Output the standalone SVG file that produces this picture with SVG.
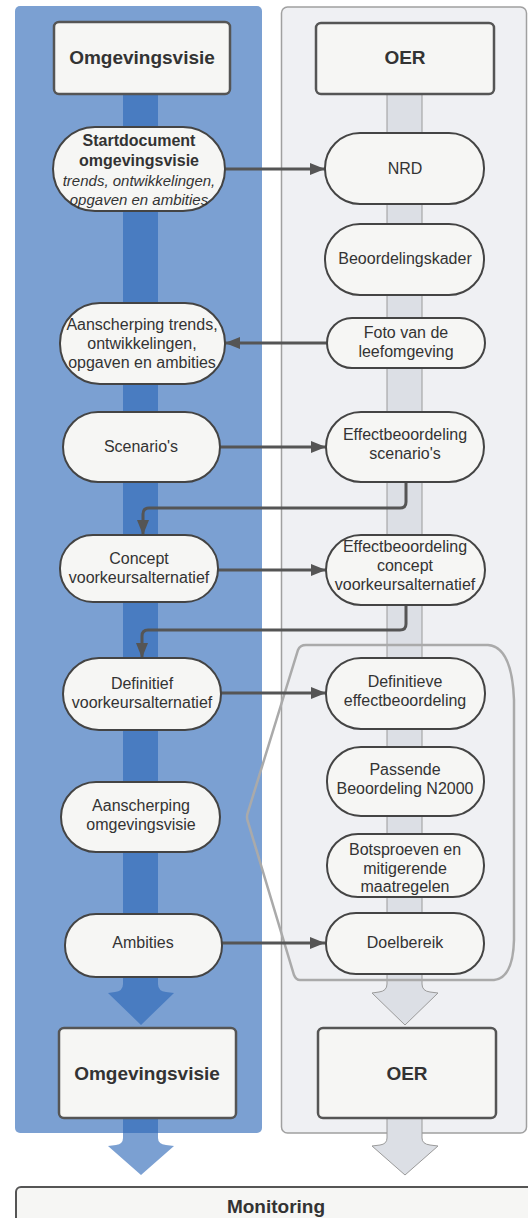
<svg xmlns="http://www.w3.org/2000/svg" width="528" height="1218" viewBox="0 0 528 1218">
<defs>
<style>
.blue{fill:#2a66b6;fill-opacity:0.62}
.gray{fill:#dcdfe5;stroke:#9a9a9a;stroke-width:1}
.node{fill:#f6f6f4;stroke:#444;stroke-width:2}
.hdr{fill:#f6f6f4;stroke:#555;stroke-width:2.5}
.t{font-family:"Liberation Sans",Arial,sans-serif;font-size:16px;fill:#333;text-anchor:middle}
.b{font-weight:bold}
.i{font-style:italic;font-size:15px}
.h{font-family:"Liberation Sans",Arial,sans-serif;font-size:19px;font-weight:bold;fill:#333;text-anchor:middle}
.c{fill:none;stroke:#555;stroke-width:3}
</style>
<marker id="ah" markerUnits="userSpaceOnUse" markerWidth="16" markerHeight="14" refX="15" refY="7" orient="auto">
<path d="M0,1 L15,7 L0,13 Z" fill="#555"/>
</marker>
</defs>

<g id="panels">
<rect x="15" y="6" width="247" height="1127" rx="5" class="blue"/>
<rect x="281.5" y="7" width="245" height="1126" rx="6" fill="#eff0f3" stroke="#a0a0a0" stroke-width="1.5"/>
</g>

<g id="bands">
<path class="blue" d="M123,94 V984 Q123,991 115,992 L108,993 L141,1025 L174,993 L166,992 Q158,991 158,984 V94 Z"/>
<path class="blue" d="M123,1118 V1138 Q123,1144 116,1145 L108,1146 L141,1175 L174,1146 L166,1145 Q158,1144 158,1138 V1118 Z"/>
<path class="gray" d="M387,94 V984 Q387,991 379,992 L372,993 L405,1025 L438,993 L430,992 Q422,991 422,984 V94 Z"/>
<path class="gray" d="M387,1118 V1138 Q387,1144 380,1145 L372,1146 L405,1175 L438,1146 L430,1145 Q422,1144 422,1138 V1118 Z"/>
</g>

<g id="bracket">
<path d="M306,645 L488,645 Q512,647 514,700 L514,940 Q513,978 494,980 L300,980 Q296,980 294,975 L248,822 Q246,817 248,812 L298,650 Q300,645 306,645 Z" fill="none" stroke="#aaa" stroke-width="2.5"/>
</g>

<g id="connectors">
<path class="c" d="M225,169 H325" marker-end="url(#ah)"/>
<path class="c" d="M327,343 H225" marker-end="url(#ah)"/>
<path class="c" d="M220,447 H326" marker-end="url(#ah)"/>
<path class="c" d="M406,482 V502 Q406,508 400,508 H149 Q143,508 143,514 V535" marker-end="url(#ah)"/>
<path class="c" d="M218,570 H326" marker-end="url(#ah)"/>
<path class="c" d="M406,605 V624 Q406,630 400,630 H148 Q142,630 142,636 V658" marker-end="url(#ah)"/>
<path class="c" d="M221,693 H326" marker-end="url(#ah)"/>
<path class="c" d="M222,943 H325" marker-end="url(#ah)"/>
</g>

<g id="hdr-omgevingsvisie-top"><rect class="hdr" x="54" y="22" width="176" height="72" rx="5"/><text class="h" x="142" y="64">Omgevingsvisie</text></g>
<g id="hdr-oer-top"><rect class="hdr" x="316" y="23" width="178" height="71" rx="5"/><text class="h" x="405" y="64">OER</text></g>
<g id="hdr-omgevingsvisie-bottom"><rect class="hdr" x="59" y="1028" width="177" height="90" rx="5"/><text class="h" x="147" y="1080">Omgevingsvisie</text></g>
<g id="hdr-oer-bottom"><rect class="hdr" x="318" y="1028" width="178" height="90" rx="5"/><text class="h" x="407" y="1080">OER</text></g>

<g id="n-startdocument"><rect class="node" x="53" y="127" width="172" height="84" rx="42"/>
<text class="t b" x="139" y="146">Startdocument</text><text class="t b" x="139" y="166">omgevingsvisie</text>
<text class="t i" x="139" y="186">trends, ontwikkelingen,</text><text class="t i" x="139" y="205">opgaven en ambities</text></g>
<g id="n-aanscherping-trends"><rect class="node" x="60" y="303" width="165" height="81" rx="40"/>
<text class="t" x="142" y="330">Aanscherping trends,</text><text class="t" x="142" y="349">ontwikkelingen,</text><text class="t" x="142" y="368">opgaven en ambities</text></g>
<g id="n-scenarios"><rect class="node" x="63" y="412" width="157" height="70" rx="35"/><text class="t" x="141" y="452">Scenario's</text></g>
<g id="n-concept"><rect class="node" x="60" y="535" width="158" height="67" rx="33"/>
<text class="t" x="139" y="564">Concept</text><text class="t" x="139" y="583">voorkeursalternatief</text></g>
<g id="n-definitief"><rect class="node" x="63" y="658" width="158" height="72" rx="36"/>
<text class="t" x="142" y="689">Definitief</text><text class="t" x="142" y="708">voorkeursalternatief</text></g>
<g id="n-aanscherping-omgevingsvisie"><rect class="node" x="61" y="782" width="159" height="70" rx="35"/>
<text class="t" x="141" y="811">Aanscherping</text><text class="t" x="141" y="830">omgevingsvisie</text></g>
<g id="n-ambities"><rect class="node" x="65" y="914" width="157" height="63" rx="31"/><text class="t" x="143" y="948">Ambities</text></g>

<g id="n-nrd"><rect class="node" x="325" y="133" width="159" height="71" rx="35"/><text class="t" x="405" y="174">NRD</text></g>
<g id="n-beoordelingskader"><rect class="node" x="325" y="224" width="159" height="71" rx="35"/><text class="t" x="405" y="264">Beoordelingskader</text></g>
<g id="n-foto"><rect class="node" x="327" y="318" width="158" height="50" rx="25"/>
<text class="t" x="406" y="338">Foto van de</text><text class="t" x="406" y="357">leefomgeving</text></g>
<g id="n-effect-scenarios"><rect class="node" x="326" y="412" width="158" height="70" rx="35"/>
<text class="t" x="405" y="440">Effectbeoordeling</text><text class="t" x="405" y="459">scenario's</text></g>
<g id="n-effect-concept"><rect class="node" x="326" y="535" width="159" height="70" rx="35"/>
<text class="t" x="405" y="552">Effectbeoordeling</text><text class="t" x="405" y="571">concept</text><text class="t" x="405" y="590">voorkeursalternatief</text></g>
<g id="n-definitieve"><rect class="node" x="326" y="658" width="159" height="71" rx="35"/>
<text class="t" x="405" y="687">Definitieve</text><text class="t" x="405" y="706">effectbeoordeling</text></g>
<g id="n-passende"><rect class="node" x="327" y="747" width="157" height="69" rx="34"/>
<text class="t" x="405" y="775">Passende</text><text class="t" x="405" y="794">Beoordeling N2000</text></g>
<g id="n-botsproeven"><rect class="node" x="327" y="834" width="157" height="63" rx="31"/>
<text class="t" x="405" y="855">Botsproeven en</text><text class="t" x="405" y="874">mitigerende</text><text class="t" x="405" y="892">maatregelen</text></g>
<g id="n-doelbereik"><rect class="node" x="326" y="913" width="158" height="61" rx="30"/><text class="t" x="405" y="948">Doelbereik</text></g>

<g id="monitoring"><rect x="16" y="1187" width="530" height="60" rx="5" fill="#f6f6f4" stroke="#555" stroke-width="2"/>
<text class="h" x="276" y="1213">Monitoring</text></g>
</svg>
